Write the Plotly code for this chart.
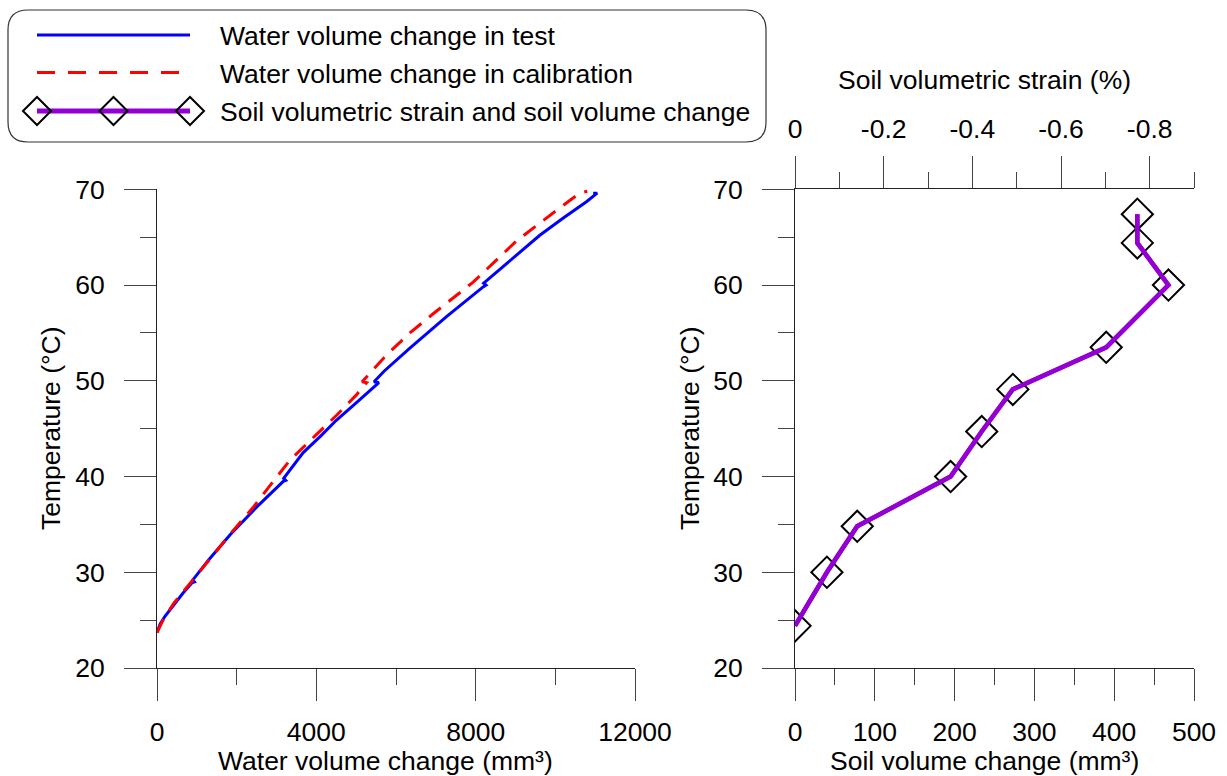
import plotly.graph_objects as go

W, H = 1227, 776

# ---------------- data ----------------
test_vol = [0, 80, 200, 420, 650, 880, 940, 900, 1300, 1830, 2500, 3170, 3230, 3180,
            3671, 4100, 4508, 5000, 5510, 5570, 5450, 5700, 6348, 7268, 8188, 8260,
            8200, 8900, 9610, 10200, 10781, 11050, 10950]
test_temp = [23.7, 24.6, 25.4, 26.6, 27.8, 28.9, 29.0, 29.2, 31.3, 33.9, 36.8, 39.5, 39.6, 39.8,
             42.5, 44.2, 45.9, 47.7, 49.6, 49.8, 49.9, 51.0, 53.4, 56.7, 59.8, 60.0,
             60.2, 62.7, 65.2, 67.0, 68.7, 69.6, 69.6]

calib_vol = [0, 150, 410, 911, 1372, 1900, 2417, 2900, 3337, 4006, 4508, 5000, 5262, 5150,
             5763, 6350, 6933, 7937, 9024, 10028, 10613, 10800]
calib_temp = [23.7, 25.0, 26.7, 29.2, 31.6, 34.3, 36.8, 39.4, 41.7, 44.4, 46.4, 48.5, 49.8, 49.9,
              52.7, 55.0, 57.0, 60.3, 64.6, 67.8, 69.6, 69.8]

soil_vol = [0, 40, 78, 195, 234, 273, 390, 468, 429, 429]
soil_strain = [0, -0.072, -0.140, -0.351, -0.421, -0.491, -0.702, -0.842, -0.772, -0.772]
soil_temp = [24.4, 30.0, 34.8, 40.0, 44.7, 49.1, 53.5, 60.0, 64.4, 67.4]

left_xticks = [0, 4000, 8000, 12000]
left_xlabels = ["0", "4000", "8000", "12000"]
right_xticks = [0, 100, 200, 300, 400, 500]
temp_ticks = [20, 30, 40, 50, 60, 70]
strain_ticks = [0, -0.2, -0.4, -0.6, -0.8]
strain_labels = ["0", "-0.2", "-0.4", "-0.6", "-0.8"]

legend_labels = ["Water volume change in test",
                 "Water volume change in calibration",
                 "Soil volumetric strain and soil volume change"]

BLUE = "#0000FF"
RED = "#FF0000"
PURPLE = "#9400D3"
FONT = "Liberation Sans, Arial, sans-serif"
FS = 26.5


def px(x):
    return x / W


def py(y):
    return 1 - y / H


fig = go.Figure()
fig.add_trace(go.Scatter(x=test_vol, y=test_temp, mode="lines",
                         line=dict(color=BLUE, width=3), xaxis="x", yaxis="y",
                         name=legend_labels[0], showlegend=False))
fig.add_trace(go.Scatter(x=calib_vol, y=calib_temp, mode="lines",
                         line=dict(color=RED, width=3, dash="15px,10px"), xaxis="x", yaxis="y",
                         name=legend_labels[1], showlegend=False))
fig.add_trace(go.Scatter(x=soil_strain, y=soil_temp, mode="lines",
                         line=dict(color=PURPLE, width=4.5), xaxis="x3", yaxis="y2",
                         name="Soil volumetric strain", showlegend=False))
fig.add_trace(go.Scatter(x=soil_vol, y=soil_temp, mode="lines+markers",
                         line=dict(color=PURPLE, width=4.5),
                         marker=dict(symbol="diamond-open", size=24, color="black",
                                     line=dict(width=2, color="black")),
                         xaxis="x2", yaxis="y2",
                         name=legend_labels[2], showlegend=False))

LINE = "#222222"
TICK = "#444444"
tickfont = dict(family=FONT, size=FS, color="black")
common = dict(showline=True, linecolor=LINE, linewidth=1, showgrid=False, zeroline=False,
              ticks="outside", ticklen=32, tickwidth=1, tickcolor=TICK, tickfont=tickfont,
              fixedrange=True, automargin=False)

ydom = [py(668), py(189.3)]
fig.update_layout(
    template="none",
    width=W, height=H, autosize=False,
    margin=dict(l=0, r=0, t=0, b=0, pad=0),
    paper_bgcolor="white", plot_bgcolor="white",
    showlegend=False,
    xaxis=dict(domain=[px(157), px(635)], range=[0, 12000], anchor="y",
               tickmode="array", tickvals=left_xticks, ticktext=left_xlabels,
               ticklabelstandoff=8,
               minor=dict(ticks="outside", dtick=2000, tick0=0, ticklen=16, tickcolor=TICK),
               **common),
    yaxis=dict(domain=ydom, range=[20, 70], anchor="x",
               tickmode="array", tickvals=temp_ticks, ticklabelstandoff=14,
               minor=dict(ticks="outside", dtick=5, tick0=0, ticklen=16, tickcolor=TICK),
               **common),
    xaxis2=dict(domain=[px(795), px(1194)], range=[0, 500], anchor="y2",
                tickmode="array", tickvals=right_xticks, ticklabelstandoff=8,
                minor=dict(ticks="outside", dtick=50, tick0=0, ticklen=16, tickcolor=TICK),
                **common),
    yaxis2=dict(domain=ydom, range=[20, 70], anchor="x2",
                tickmode="array", tickvals=temp_ticks, ticklabelstandoff=14,
                minor=dict(ticks="outside", dtick=5, tick0=0, ticklen=16, tickcolor=TICK),
                **common),
    xaxis3=dict(overlaying="x2", side="top", anchor="y2", range=[0, -0.9],
                tickmode="array", tickvals=strain_ticks, ticktext=strain_labels,
                ticklabelstandoff=8,
                minor=dict(ticks="outside", dtick=0.1, tick0=0, ticklen=16, tickcolor=TICK),
                **common),
)

# ---------------- axis titles ----------------
ann = []
title_font = dict(family=FONT, size=FS, color="black")
ann.append(dict(text="Water volume change (mm³)", x=px(385), y=py(761), xref="paper", yref="paper",
                xanchor="center", yanchor="middle", showarrow=False, font=title_font))
ann.append(dict(text="Soil volume change (mm³)", x=px(984), y=py(761), xref="paper", yref="paper",
                xanchor="center", yanchor="middle", showarrow=False, font=title_font))
ann.append(dict(text="Temperature (°C)", x=px(51), y=py(428), xref="paper", yref="paper",
                xanchor="center", yanchor="middle", showarrow=False, textangle=-90, font=title_font))
ann.append(dict(text="Temperature (°C)", x=px(690), y=py(428), xref="paper", yref="paper",
                xanchor="center", yanchor="middle", showarrow=False, textangle=-90, font=title_font))
ann.append(dict(text="Soil volumetric strain (%)", x=px(984), y=py(80), xref="paper", yref="paper",
                xanchor="center", yanchor="middle", showarrow=False, font=title_font))

# ---------------- legend (drawn by hand, rounded box) ----------------
shapes = []
x0, y0, x1, y1, r = 8, 10, 766, 142, 20


def P(x, y):
    return f"{px(x):.6f},{py(y):.6f}"


path = (f"M {P(x0 + r, y0)} L {P(x1 - r, y0)} Q {P(x1, y0)} {P(x1, y0 + r)} "
        f"L {P(x1, y1 - r)} Q {P(x1, y1)} {P(x1 - r, y1)} L {P(x0 + r, y1)} "
        f"Q {P(x0, y1)} {P(x0, y1 - r)} L {P(x0, y0 + r)} Q {P(x0, y0)} {P(x0 + r, y0)} Z")
shapes.append(dict(type="path", path=path, xref="paper", yref="paper",
                   line=dict(color="#333333", width=1.2), fillcolor="white", layer="above"))

rows = [35, 72.5, 111]
lx0, lx1 = 37, 190
shapes.append(dict(type="line", x0=px(lx0), x1=px(lx1), y0=py(rows[0]), y1=py(rows[0]),
                   xref="paper", yref="paper", line=dict(color=BLUE, width=3)))
shapes.append(dict(type="line", x0=px(lx0), x1=px(lx1), y0=py(rows[1]), y1=py(rows[1]),
                   xref="paper", yref="paper", line=dict(color=RED, width=3, dash="18px,13px")))
shapes.append(dict(type="line", x0=px(lx0), x1=px(lx1), y0=py(rows[2]), y1=py(rows[2]),
                   xref="paper", yref="paper", line=dict(color=PURPLE, width=5)))
for cx in [lx0, (lx0 + lx1) / 2, lx1]:
    d = 14
    cy = rows[2]
    dp = f"M {P(cx - d, cy)} L {P(cx, cy - d)} L {P(cx + d, cy)} L {P(cx, cy + d)} Z"
    shapes.append(dict(type="path", path=dp, xref="paper", yref="paper",
                       line=dict(color="black", width=2), layer="above"))

for lab, ry in zip(legend_labels, rows):
    ann.append(dict(text=lab, x=px(218), y=py(ry + 1), xref="paper", yref="paper",
                    xanchor="left", yanchor="middle", showarrow=False,
                    font=dict(family=FONT, size=FS, color="black")))

fig.update_layout(shapes=shapes, annotations=ann)
fig.write_html("out.html", config={"displayModeBar": False},
               post_script="document.body.style.margin='0';document.body.style.padding='0';")
